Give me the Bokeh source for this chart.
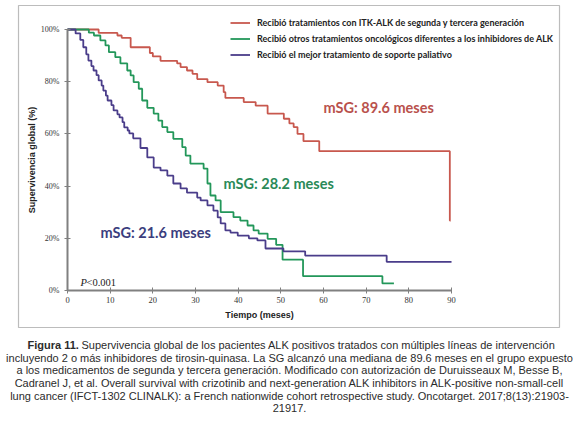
from bokeh.plotting import figure
from bokeh.models import Range1d, Label, BoxAnnotation, Legend, LegendItem, FixedTicker
from bokeh.embed import file_html
from bokeh.resources import INLINE

# ---------------- data ----------------
x_ticks = [0, 10, 20, 30, 40, 50, 60, 70, 80, 90]
y_ticks = [0, 20, 40, 60, 80, 100]
y_tick_labels = ["0%", "20%", "40%", "60%", "80%", "100%"]

series_names = [
    "Recibió tratamientos con ITK-ALK de segunda y tercera generación",
    "Recibió otros tratamientos oncológicos diferentes a los inhibidores de ALK",
    "Recibió el mejor tratamiento de soporte paliativo",
]

t_red = [0, 7.3, 11.7, 12.7, 14.8, 19.3, 20.0, 21.8, 25.7, 26.5, 28.0, 29.3, 30.4, 32.8,
         35.2, 36.6, 37.0, 41.3, 44.1, 46.9, 50.7, 52.0, 53.0, 53.9, 55.3, 59.0, 89.6, 89.8]
s_red = [100, 98.7, 97.7, 96.8, 93.2, 91.0, 89.7, 88.0, 87.0, 85.6, 84.3, 83.0, 81.0, 79.8,
         78.5, 76.0, 73.8, 72.2, 70.8, 67.8, 65.8, 64.0, 62.6, 60.0, 57.2, 53.4, 26.8, 26.8]

t_green = [0, 5.0, 6.2, 7.7, 8.9, 9.7, 11.2, 12.4, 14.0, 14.8, 15.5, 16.7, 17.5, 18.7, 20.2,
           21.3, 22.2, 23.4, 24.8, 26.9, 27.7, 28.8, 31.9, 32.8, 33.5, 34.7, 35.9, 38.9, 40.5,
           42.2, 43.6, 44.8, 46.9, 48.9, 50.4, 55.2, 73.8, 76.5]
s_green = [100, 98.8, 97.7, 95.8, 93.9, 91.3, 89.4, 87.0, 84.3, 82.4, 79.8, 77.3, 72.8, 70.0,
           67.8, 65.1, 62.6, 60.7, 58.1, 54.9, 51.7, 48.6, 46.7, 41.0, 36.4, 34.5, 30.0, 28.1,
           26.8, 24.9, 23.0, 21.8, 19.8, 17.5, 11.8, 5.5, 2.7, 2.7]

t_purple = [0, 1.9, 3.0, 3.7, 4.4, 4.9, 5.6, 6.1, 6.8, 7.3, 8.0, 8.4, 9.0, 9.4, 10.3, 10.8,
            11.7, 12.2, 12.9, 13.3, 14.1, 14.5, 15.4, 17.1, 18.7, 20.2, 21.8, 23.4, 24.8, 26.5,
            28.0, 30.4, 31.2, 32.8, 34.2, 35.2, 35.9, 37.0, 38.2, 39.9, 42.5, 44.5, 46.4, 50.6,
            55.7, 74.8, 90.0]
s_purple = [100, 98.5, 96.0, 93.2, 90.5, 88.1, 86.0, 84.3, 82.5, 80.5, 78.5, 76.6, 74.7, 72.8,
            71.0, 69.0, 67.5, 66.3, 64.5, 62.5, 61.3, 60.2, 58.3, 54.6, 51.0, 47.1, 46.0, 44.0,
            41.0, 39.1, 37.5, 35.6, 34.5, 32.6, 30.6, 28.0, 25.7, 23.0, 22.2, 21.0, 20.0, 19.2,
            16.1, 15.0, 13.4, 11.0, 11.0]

annotations = ["mSG: 89.6 meses", "mSG: 28.2 meses", "mSG: 21.6 meses"]
p_value = "<0.001"

caption_bold = "Figura 11."
caption_lines = [
    "Supervivencia global de los pacientes ALK positivos tratados con múltiples líneas de intervención",
    "incluyendo 2 o más inhibidores de tirosin-quinasa. La SG alcanzó una mediana de 89.6 meses en el grupo expuesto",
    "a los medicamentos de segunda y tercera generación. Modificado con autorización de Duruisseaux M, Besse B,",
    "Cadranel J, et al. Overall survival with crizotinib and next-generation ALK inhibitors in ALK-positive non-small-cell",
    "lung cancer (IFCT-1302 CLINALK): a French nationwide cohort retrospective study. Oncotarget. 2017;8(13):21903-",
    "21917.",
]

colors = ["#c8584e", "#23975a", "#4a3d8a"]
text_colors = ["#b9514c", "#2a8a58", "#3b3e7e"]

# pixel scale helpers (page pixels -> data units)
PX_X0, PX_PER_X = 67.0, 4.267
PX_Y0, PX_PER_Y = 290.0, 2.61
W, H = 578, 425


def xdata(px):
    return (px - PX_X0) / PX_PER_X


def ydata(py):
    return (PX_Y0 - py) / PX_PER_Y


# ---------------- figure ----------------
p = figure(width=W, height=H, output_backend="svg", toolbar_location=None,
           x_range=Range1d(xdata(0), xdata(W)), y_range=Range1d(ydata(H), ydata(0)),
           min_border_left=0, min_border_right=0, min_border_top=0, min_border_bottom=0)
p.outline_line_color = None
p.grid.visible = False
p.background_fill_color = "white"
p.border_fill_color = "white"

for ax in (p.xaxis[0], p.yaxis[0]):
    ax.fixed_location = 0
    ax.axis_line_color = "#808080"
    ax.axis_line_width = 2
    ax.major_tick_line_color = "#808080"
    ax.major_tick_line_width = 1
    ax.major_tick_in = 3
    ax.major_tick_out = 3
    ax.minor_tick_line_color = None
    ax.major_label_text_font = "Liberation Serif"
    ax.major_label_text_color = "#333333"
    ax.axis_label_text_font = "Liberation Sans"
    ax.axis_label_text_font_style = "bold"
    ax.axis_label_text_font_size = "9px"
    ax.axis_label_text_color = "#222222"

p.xaxis.ticker = FixedTicker(ticks=x_ticks)
p.yaxis.ticker = FixedTicker(ticks=y_ticks)
p.xaxis.bounds = (0, 90)
p.yaxis.bounds = (0, 100)
p.yaxis.major_label_overrides = {t: l for t, l in zip(y_ticks, y_tick_labels)}
p.xaxis.major_label_text_font_size = "8.5px"
p.yaxis.major_label_text_font_size = "8px"
p.xaxis.major_label_standoff = 3
p.yaxis.major_label_standoff = 5
p.xaxis.axis_label = "Tiempo (meses)"
p.yaxis.axis_label = "Supervivencia global (%)"
p.xaxis.axis_label_standoff = 4
p.yaxis.axis_label_standoff = 1

# outer box
p.add_layout(BoxAnnotation(left=xdata(18), right=xdata(559), top=ydata(5), bottom=ydata(327),
                           fill_alpha=0, line_color="#222222", line_width=1.2))

renderers = []
for t, s, c in zip([t_red, t_green, t_purple], [s_red, s_green, s_purple], colors):
    r = p.step(t, s, mode="after", line_color=c, line_width=1.8)
    renderers.append(r)

legend = Legend(items=[LegendItem(label=n, renderers=[r]) for n, r in zip(series_names, renderers)],
                location=(230, H - 62), glyph_width=20, glyph_height=15, label_height=15,
                spacing=1, padding=0, margin=0, label_standoff=7,
                border_line_color=None, background_fill_alpha=0,
                label_text_font="Lato", label_text_font_style="bold",
                label_text_font_size="9px", label_text_color="#222222")
p.add_layout(legend)

ann_px = [(323, 107), (223, 183), (100, 232)]
for txt, (x, y), c in zip(annotations, ann_px, text_colors):
    p.add_layout(Label(x=xdata(x), y=ydata(y), text=txt, text_color=c, text_font="Lato",
                       text_font_style="bold", text_font_size="14.5px", text_baseline="middle"))

p.add_layout(Label(x=xdata(80), y=ydata(282), text="P", text_font="Liberation Serif",
                   text_font_style="italic", text_font_size="10.5px", text_baseline="middle",
                   text_color="#222222"))
p.add_layout(Label(x=xdata(86), y=ydata(282), text=p_value, text_font="Liberation Serif",
                   text_font_size="10.5px", text_baseline="middle", text_color="#222222"))

# caption
cap_y0 = 344.3
cap_dy = 12.7
p.add_layout(Label(x=xdata(27), y=ydata(cap_y0), text=caption_bold, text_font="Liberation Sans",
                   text_font_style="bold", text_font_size="11px", text_baseline="middle",
                   text_color="#2b2b2b"))
p.add_layout(Label(x=xdata(81), y=ydata(cap_y0), text=caption_lines[0], text_font="Liberation Sans",
                   text_font_size="11px", text_baseline="middle", text_color="#2b2b2b"))
for i, line in enumerate(caption_lines[1:], start=1):
    p.add_layout(Label(x=xdata(289), y=ydata(cap_y0 + cap_dy * i), text=line,
                       text_font="Liberation Sans", text_font_size="11px", text_align="center",
                       text_baseline="middle", text_color="#2b2b2b"))

open("out.html", "w").write(file_html(p, INLINE))
